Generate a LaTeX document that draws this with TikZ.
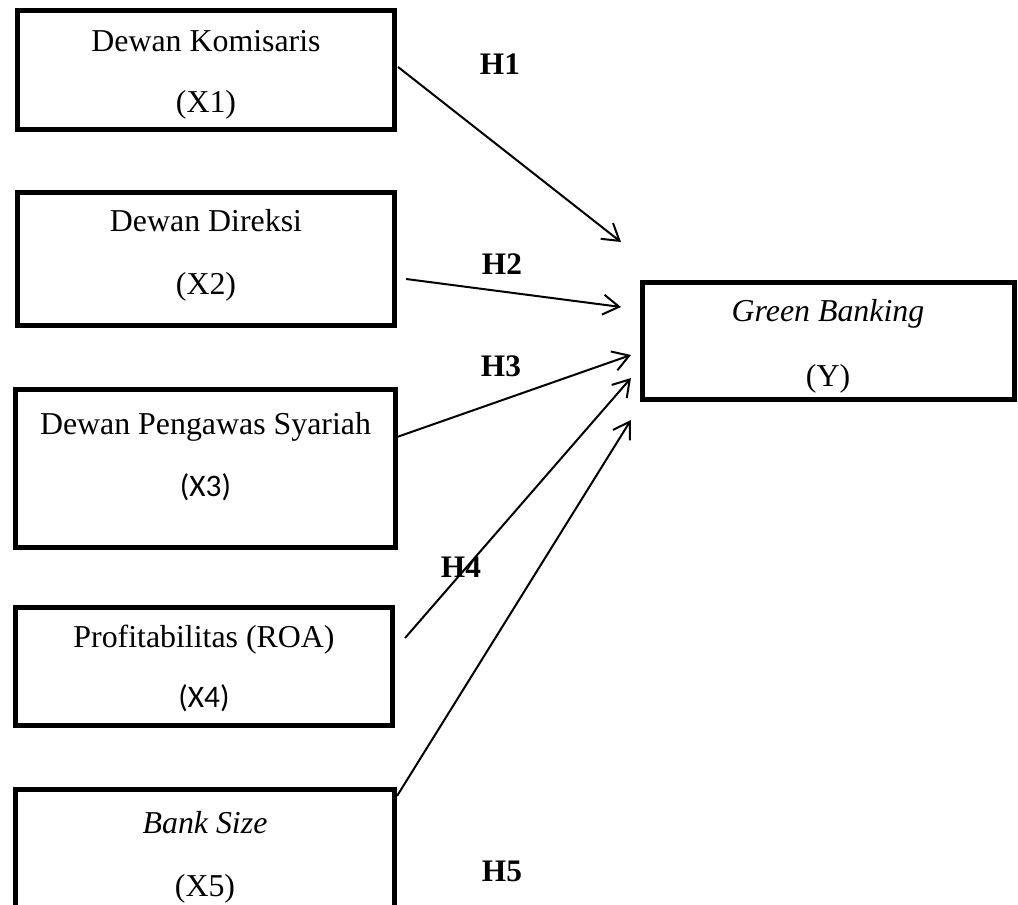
\documentclass[tikz,border=0pt]{standalone}
\usepackage{fontspec}
\setmainfont{Liberation Serif}
\newfontfamily\calibfont{Carlito}
\usetikzlibrary{arrows.meta}
\newcommand\pxu{0.75pt}
\begin{document}
\begin{tikzpicture}[x=0.75pt,y=-0.75pt,
  box/.style={draw, line width=3.6pt, rectangle, inner sep=0pt},
  txt/.style={anchor=base, inner sep=0pt, font=\fontsize{23.9pt}{28pt}\selectfont},
  sanstxt/.style={anchor=base, inner sep=0pt, font=\calibfont\fontsize{23.5pt}{28pt}\selectfont},
  hlab/.style={anchor=base, inner sep=0pt, font=\fontsize{23.5pt}{28pt}\selectfont\bfseries},
  arr/.style={-{Straight Barb[length=12pt,width=15pt]}, line width=1.5pt}]
\useasboundingbox (0,0) rectangle (1018,905);
\clip (0,0) rectangle (1018,905);

% boxes
\node[box, minimum width=377.3*\pxu, minimum height=119.3*\pxu] (b1) at (206,70) {};
\node[box, minimum width=377.3*\pxu, minimum height=133.3*\pxu] (b2) at (206,259) {};
\node[box, minimum width=380.3*\pxu, minimum height=158.3*\pxu] (b3) at (205.5,468.5) {};
\node[box, minimum width=377.3*\pxu, minimum height=118.3*\pxu] (b4) at (204,666.5) {};
\node[box, minimum width=379.3*\pxu, minimum height=138.3*\pxu] (b5) at (205,858.5) {};
\node[box, minimum width=372.3*\pxu, minimum height=117.3*\pxu] (by) at (828.5,341) {};

% texts
\node[txt] (t1a) at (206,52) {Dewan Komisaris};
\node[txt] (t1b) at (206,113) {(X1)};
\node[txt] (t2a) at (206,232) {Dewan Direksi};
\node[txt] (t2b) at (206,295) {(X2)};
\node[txt] (t3a) at (205.5,435) {Dewan Pengawas Syariah};
\node[sanstxt] (t3b) at (205.5,497) {(X3)};
\node[txt] (t4a) at (204,647) {Profitabilitas (ROA)};
\node[sanstxt] (t4b) at (204,707) {(X4)};
\node[txt] (t5a) at (205,833) {\itshape Bank Size};
\node[txt] (t5b) at (205,896) {(X5)};
\node[txt] (tya) at (828,322) {\itshape Green Banking};
\node[txt] (tyb) at (828,387) {(Y)};

% hypothesis labels
\node[hlab] (h1) at (500,75) {H1};
\node[hlab] (h2) at (502,275) {H2};
\node[hlab] (h3) at (501,377) {H3};
\node[hlab] (h4) at (461,577) {H4};
\node[hlab] (h5) at (502,881) {H5};

% connector ends
\coordinate (s1) at ([shift={(1,-3)}]b1.east);
\coordinate (s2) at ([shift={(9,20)}]b2.east);
\coordinate (s3) at ([shift={(-1,-31.5)}]b3.east);
\coordinate (s4) at ([shift={(10,-28.5)}]b4.east);
\coordinate (s5) at ([shift={(0,9)}]b5.north east);
\coordinate (e1) at ([shift={(-19,-99)}]by.west);
\coordinate (e2) at ([shift={(-19,-34)}]by.west);
\coordinate (e3) at ([shift={(-9,14)}]by.west);
\coordinate (e4) at ([shift={(-9,37)}]by.west);
\coordinate (e5) at ([shift={(-9,79)}]by.west);

\draw[arr] (s1) -- (e1);
\draw[arr] (s2) -- (e2);
\draw[arr] (s3) -- (e3);
\draw[arr] (s4) -- (e4);
\draw[arr] (s5) -- (e5);
\end{tikzpicture}
\end{document}
